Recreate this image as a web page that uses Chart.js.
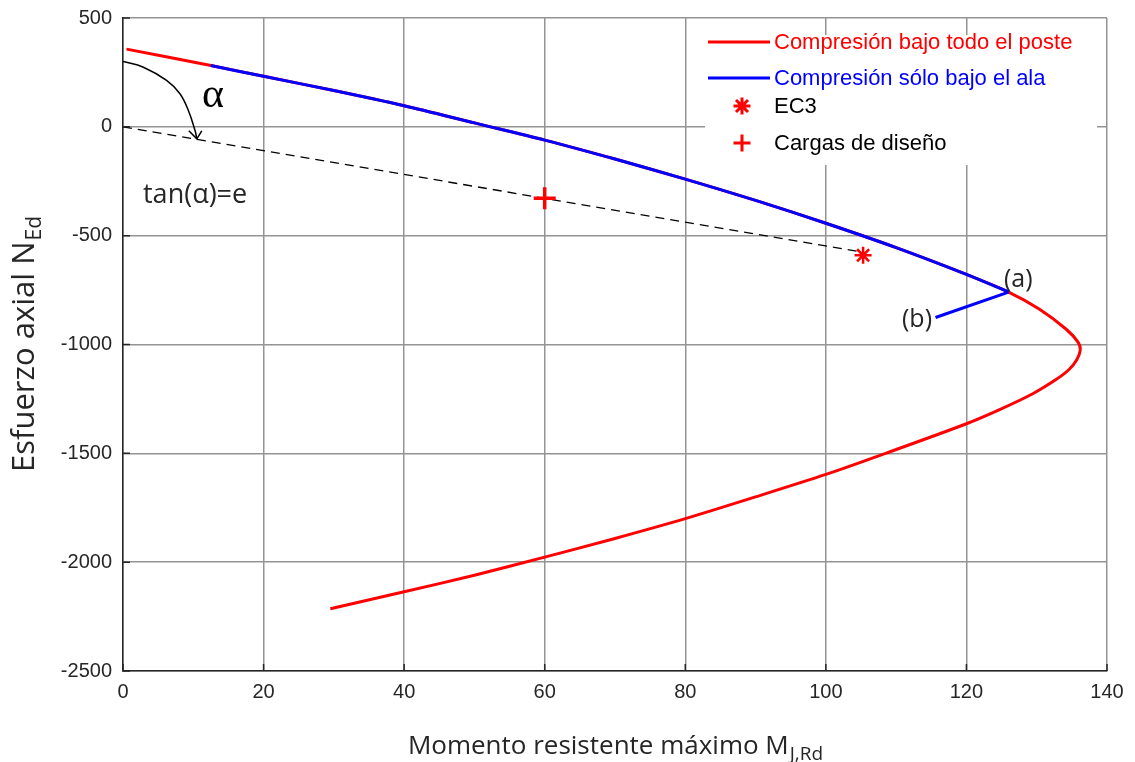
<!DOCTYPE html>
<html lang="es">
<head>
<meta charset="utf-8">
<title>Esfuerzo axial frente a momento resistente</title>
<script src="https://cdn.jsdelivr.net/npm/chart.js@4.4.1/dist/chart.umd.min.js"></script>
<style>
  html, body { margin: 0; padding: 0; background: #fff; }
  #wrap { width: 1135px; height: 762px; }
</style>
</head>
<body>
<div id="wrap"><canvas id="chart" width="1135" height="762"></canvas></div>
<script>
// --- datos -------------------------------------------------------------------

// Compresión bajo todo el poste (rama superior, nariz y rama inferior)
const posteM = [0.5, 12.5, 20, 30, 40, 50, 60, 70, 80, 90, 100, 110, 120, 126,
                130.4, 134.2, 135.9, 136.2, 135.7, 134.6, 132.8, 129.5, 124.8, 120,
                108.5, 100, 90, 80, 70, 60, 50, 40, 29.5];
const posteN = [357, 282, 232, 167, 97, 18, -61, -148, -240, -338, -443, -555, -678, -759,
                -838, -930, -990, -1025, -1070, -1115, -1160, -1225, -1298, -1364,
                -1500, -1597, -1700, -1800, -1891, -1977, -2060, -2136, -2214];

// Compresión sólo bajo el ala, hasta el punto (a)
const alaM = [12.5, 20, 30, 40, 50, 60, 70, 80, 90, 100, 110, 120, 126];
const alaN = [282, 232, 167, 97, 18, -61, -148, -240, -338, -443, -555, -678, -759];

// tramo recto (a) -> (b)
const ramaM = [126, 115.6];
const ramaN = [-759, -876];

const ec3M = [105.3];
const ec3N = [-590];

const disenoM = [60];
const disenoN = [-328];

// recta de excentricidad desde el origen
const excM = [0, 104.5];
const excN = [0, -572];

// flecha del ángulo alfa
const arcoM = [0, 2.9, 6.2, 8.1, 9.3, 10.25, 10.5];
const arcoN = [300, 274, 213, 152, 75, -17, -55];

const xTicks = [0, 20, 40, 60, 80, 100, 120, 140];
const yTicks = [500, 0, -500, -1000, -1500, -2000, -2500];

// --- estilos -----------------------------------------------------------------

const ROJO  = '#ff0000';
const AZUL  = '#0000ff';
const TEXTO = '#262626';
const REJILLA = '#949494';
const TICK_FONT = '"Liberation Sans", Arial, sans-serif';
const CAL_FONT  = '"Open Sans", "Noto Sans", sans-serif';

function pts(ms, ns) { return ms.map((m, i) => ({ x: m, y: ns[i] })); }

// --- plugins -----------------------------------------------------------------

// leyenda dentro del área de ejes, esquina superior derecha
const leyenda = {
  id: 'leyenda',
  afterDatasetsDraw(chart) {
    const ctx = chart.ctx;
    const a = chart.chartArea;
    const x0 = a.right - 402, y0 = a.top + 17;
    ctx.save();
    ctx.fillStyle = '#fff';
    ctx.fillRect(x0, y0, 392, 130);

    const items = [
      { text: 'Compresión bajo todo el poste', color: ROJO, tipo: 'linea', dy: 24 },
      { text: 'Compresión sólo bajo el ala',   color: AZUL, tipo: 'linea', dy: 60 },
      { text: 'EC3',              color: '#000', marca: 'star',  dy: 88 },
      { text: 'Cargas de diseño', color: '#000', marca: 'cross', dy: 125 }
    ];
    ctx.font = '22px ' + TICK_FONT;
    ctx.textBaseline = 'middle';
    ctx.textAlign = 'left';
    items.forEach(it => {
      const yy = a.top + it.dy;
      if (it.tipo === 'linea') {
        ctx.strokeStyle = it.color;
        ctx.lineWidth = 3;
        ctx.beginPath();
        ctx.moveTo(x0 + 3, yy);
        ctx.lineTo(x0 + 65, yy);
        ctx.stroke();
      } else {
        ctx.strokeStyle = ROJO;
        Chart.helpers.drawPoint(ctx, { pointStyle: it.marca, radius: 8.5, borderWidth: 2.5, rotation: 0 }, x0 + 37, yy);
      }
      ctx.fillStyle = it.color;
      ctx.fillText(it.text, x0 + 69, yy + 1);
    });
    ctx.restore();
  }
};

function textoSub(ctx, x, y, main, sub, size, subSize, drop) {
  ctx.font = size + 'px ' + CAL_FONT;
  const w1 = ctx.measureText(main).width;
  ctx.font = subSize + 'px ' + CAL_FONT;
  const w2 = ctx.measureText(sub).width;
  const x0 = x - (w1 + w2) / 2;
  ctx.textAlign = 'left';
  ctx.font = size + 'px ' + CAL_FONT;
  ctx.fillText(main, x0, y);
  ctx.font = subSize + 'px ' + CAL_FONT;
  ctx.fillText(sub, x0 + w1 + 1, y + drop);
}

// marcas interiores, flecha, rótulos y títulos de ejes
const rotulos = {
  id: 'rotulos',
  afterDraw(chart) {
    const ctx = chart.ctx;
    const a = chart.chartArea;
    const sx = chart.scales.x, sy = chart.scales.y;
    ctx.save();

    ctx.strokeStyle = TEXTO;
    ctx.lineWidth = 1.5;
    ctx.beginPath();
    xTicks.forEach(v => { const p = sx.getPixelForValue(v); ctx.moveTo(p, a.bottom); ctx.lineTo(p, a.bottom - 7); });
    yTicks.forEach(v => { const p = sy.getPixelForValue(v); ctx.moveTo(a.left, p); ctx.lineTo(a.left + 7, p); });
    ctx.stroke();

    // punta de la flecha
    const tx = sx.getPixelForValue(arcoM[arcoM.length - 1]);
    const ty = sy.getPixelForValue(arcoN[arcoN.length - 1]);
    ctx.strokeStyle = '#000';
    ctx.lineWidth = 1.5;
    ctx.beginPath();
    ctx.moveTo(tx - 8, ty - 8);
    ctx.lineTo(tx, ty);
    ctx.lineTo(tx + 5, ty - 8);
    ctx.stroke();

    ctx.fillStyle = '#000';
    ctx.textBaseline = 'alphabetic';
    ctx.textAlign = 'left';
    ctx.font = '42px "Liberation Serif", "DejaVu Serif", serif';
    ctx.fillText('α', 202, 107);

    ctx.fillStyle = TEXTO;
    ctx.font = '27px ' + CAL_FONT;
    ctx.fillText('tan(α)=e', 143, 203);
    ctx.font = '25px ' + CAL_FONT;
    ctx.fillText('(a)', 1004, 287);
    ctx.fillText('(b)', 902, 327);

    // título eje x
    ctx.fillStyle = TEXTO;
    textoSub(ctx, (a.left + a.right) / 2, 754, 'Momento resistente máximo M', 'J,Rd', 26, 19, 6);

    // título eje y
    ctx.save();
    ctx.translate(34, (a.top + a.bottom) / 2);
    ctx.rotate(-Math.PI / 2);
    textoSub(ctx, 0, 0, 'Esfuerzo axial N', 'Ed', 31, 21, 7);
    ctx.restore();

    ctx.restore();
  }
};

// --- gráfico -----------------------------------------------------------------

const ctx = document.getElementById('chart').getContext('2d');
new Chart(ctx, {
  type: 'scatter',
  data: {
    datasets: [
      { label: 'EC3', data: pts(ec3M, ec3N), order: 0,
        pointStyle: 'star', pointRadius: 8.5, borderColor: ROJO, borderWidth: 2.5, showLine: false },
      { label: 'Cargas de diseño', data: pts(disenoM, disenoN), order: 0,
        pointStyle: 'cross', pointRadius: 11, borderColor: ROJO, borderWidth: 3.5, showLine: false },
      { label: 'Compresión sólo bajo el ala', data: pts(alaM, alaN), order: 1,
        showLine: true, borderColor: AZUL, borderWidth: 3, pointRadius: 0, tension: 0.3 },
      { label: 'rama', data: pts(ramaM, ramaN), order: 1,
        showLine: true, borderColor: AZUL, borderWidth: 3, pointRadius: 0, tension: 0 },
      { label: 'Compresión bajo todo el poste', data: pts(posteM, posteN), order: 2,
        showLine: true, borderColor: ROJO, borderWidth: 3, pointRadius: 0, tension: 0.3 },
      { label: 'excentricidad', data: pts(excM, excN), order: 3,
        showLine: true, borderColor: '#000', borderWidth: 1.3, borderDash: [9, 6], pointRadius: 0 },
      { label: 'alfa', data: pts(arcoM, arcoN), order: 3,
        showLine: true, borderColor: '#000', borderWidth: 1.5, pointRadius: 0, tension: 0.4 }
    ]
  },
  options: {
    responsive: false,
    animation: false,
    devicePixelRatio: 1,
    layout: { padding: { top: 18, right: 28, left: 0, bottom: 0 } },
    plugins: { legend: { display: false }, tooltip: { enabled: false } },
    scales: {
      x: {
        type: 'linear', min: 0, max: 140,
        afterBuildTicks: s => { s.ticks = xTicks.map(v => ({ value: v })); },
        afterFit: s => { s.height = 91; s.paddingLeft = 0; s.paddingRight = 0; },
        ticks: { color: TEXTO, font: { family: TICK_FONT, size: 20 }, padding: 9,
                 callback: v => String(v) },
        grid: { color: REJILLA, lineWidth: 1.5, drawTicks: false },
        border: { color: TEXTO, width: 1.5 }
      },
      y: {
        type: 'linear', min: -2500, max: 500,
        afterBuildTicks: s => { s.ticks = yTicks.map(v => ({ value: v })); },
        afterFit: s => { s.width = 123; s.paddingTop = 0; s.paddingBottom = 0; },
        ticks: { color: TEXTO, font: { family: TICK_FONT, size: 20 }, padding: 11,
                 callback: v => String(v) },
        grid: { color: REJILLA, lineWidth: 1.5, drawTicks: false },
        border: { color: TEXTO, width: 1.5 }
      }
    }
  },
  plugins: [leyenda, rotulos]
});
</script>
</body>
</html>
